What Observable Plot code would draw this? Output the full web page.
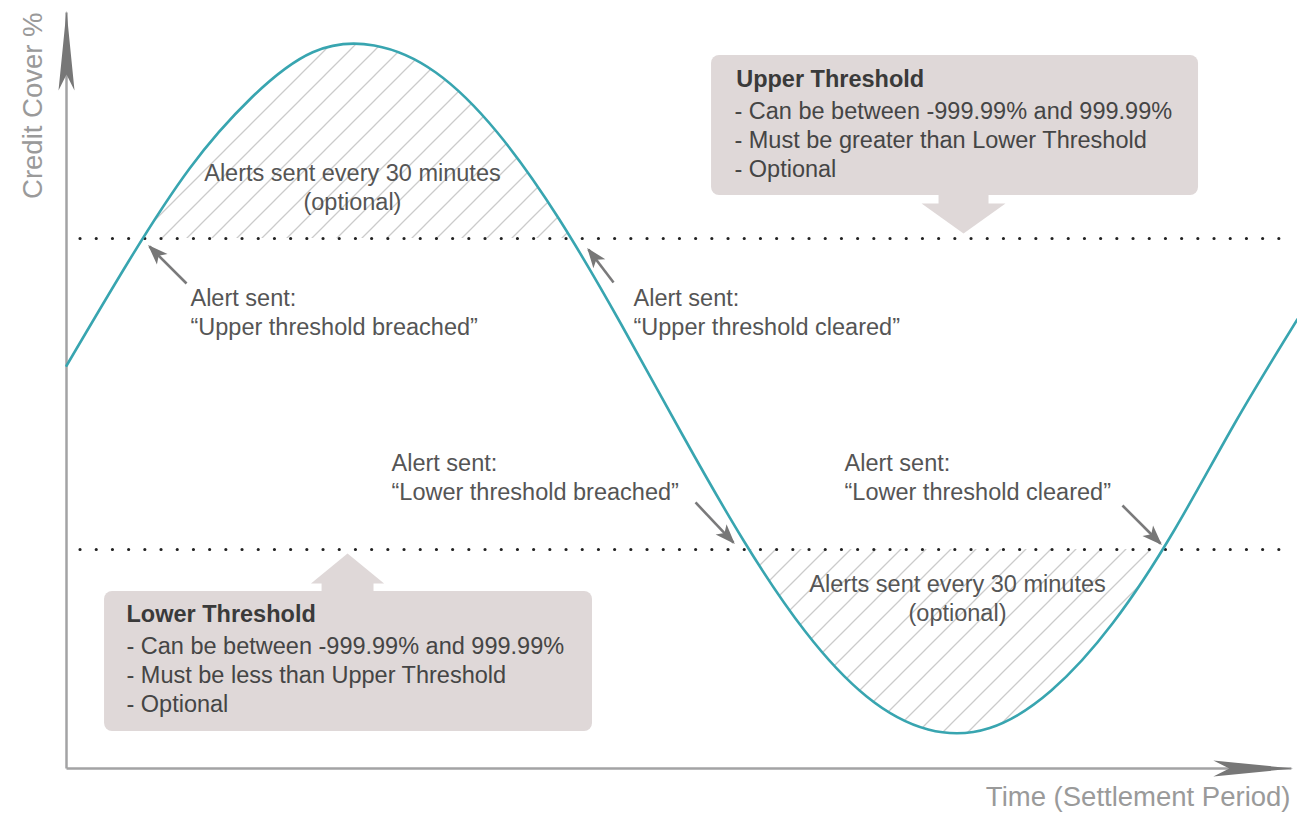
<!DOCTYPE html>
<html><head><meta charset="utf-8">
<script src="https://cdn.jsdelivr.net/npm/d3@7"></script>
<script src="https://cdn.jsdelivr.net/npm/@observablehq/plot@0.6"></script>
<style>
html,body{margin:0;padding:0;background:#fff;}
#chart svg{display:block;}
</style>
</head><body><div id="chart"></div>
<script>
// ---- data ----
const time  = [0, 5, 10, 15, 20, 25, 30, 35, 40, 45, 50, 55, 60, 65, 70, 75, 80, 85, 90, 95, 100];
const cover = [53.7, 67.5, 80.0, 89.4, 95.5, 96.4, 92.8, 84.8, 73.3, 59.4, 44.6, 30.4, 18.3, 9.6, 5.2, 5.4, 10.4, 19.4, 31.8, 46.3, 59.9];
const upperThreshold = 70.67;
const lowerThreshold = 29.2;

const series = time.map((t, i) => ({t, v: cover[i]}));

// ---- annotation layout (data units) ----
const alertNotes = [
  {text: "Alert sent:\n\u201cUpper threshold breached\u201d", t: 10.07, v: 61.0},
  {text: "Alert sent:\n\u201cUpper threshold cleared\u201d",  t: 46.06, v: 61.0},
  {text: "Alert sent:\n\u201cLower threshold breached\u201d", t: 26.4,  v: 39.0},
  {text: "Alert sent:\n\u201cLower threshold cleared\u201d",  t: 63.2,  v: 39.0}
];
const repeatNotes = [
  {text: "Alerts sent every 30 minutes\n(optional)", t: 23.23, v: 77.6},
  {text: "Alerts sent every 30 minutes\n(optional)", t: 72.38, v: 22.87}
];
const pointers = [
  {t1: 9.75,  v1: 64.67, t2: 6.74,  v2: 69.6},
  {t1: 44.44, v1: 64.8,  t2: 42.40, v2: 69.2},
  {t1: 51.10, v1: 35.47, t2: 54.18, v2: 30.13},
  {t1: 85.78, v1: 35.07, t2: 88.87, v2: 30.0}
];
const boxes = [
  {x1: 52.40, x2: 91.96, y1: 76.4, y2: 95.07},
  {x1: 3.09,  x2: 42.73, y1: 4.93, y2: 23.6}
];
const upperPointer = [
  {t: 70.84, v: 76.8}, {t: 70.84, v: 75.33}, {t: 69.46, v: 75.33}, {t: 72.87, v: 71.33},
  {t: 76.28, v: 75.33}, {t: 74.90, v: 75.33}, {t: 74.90, v: 76.8}
];
const lowerPointer = [
  {t: 20.72, v: 23.3}, {t: 20.72, v: 24.67}, {t: 19.86, v: 24.67}, {t: 22.83, v: 28.67},
  {t: 25.80, v: 24.67}, {t: 24.94, v: 24.67}, {t: 24.94, v: 23.3}
];
const boxTitles = [
  {text: "Upper Threshold", t: 54.4, v: 91.87},
  {text: "Lower Threshold", t: 4.87, v: 20.53}
];
const boxBodies = [
  {text: "- Can be between -999.99% and 999.99%\n- Must be greater than Lower Threshold\n- Optional", t: 54.26, v: 84.0},
  {text: "- Can be between -999.99% and 999.99%\n- Must be less than Upper Threshold\n- Optional", t: 4.87, v: 12.6}
];

const teal = "#38a5b0";
const boxFill = "#dfd8d8";
const axisGray = "#a3a3a4";
const pointerGray = "#7a7a7b";
const font = "'Liberation Sans', Arial, Helvetica, sans-serif";
const SVGNS = "http://www.w3.org/2000/svg";

const chart = Plot.plot({
  width: 1297,
  height: 814,
  marginLeft: 66,
  marginRight: 0,
  marginTop: 18,
  marginBottom: 46,
  x: {domain: [0, 100], axis: null},
  y: {domain: [0, 100], axis: null},
  style: {fontFamily: font, background: "#fff"},
  marks: [
    // hatched regions
    Plot.areaY(series, {x: "t", y1: upperThreshold, y2: "v", curve: "natural", fill: "url(#hatchU)"}),
    Plot.areaY(series, {x: "t", y1: lowerThreshold, y2: "v", curve: "natural", fill: "url(#hatchL)"}),
    // axes
    Plot.link([0], {x1: 0, x2: 0, y1: 0, y2: 100.8, stroke: axisGray, strokeWidth: 2.5}),
    Plot.link([0], {x1: 0, x2: 99.5, y1: 0, y2: 0, stroke: axisGray, strokeWidth: 2.5}),
    // thresholds
    Plot.ruleY([upperThreshold, lowerThreshold], {x1: 1.14, x2: 99.5, stroke: "#222", strokeWidth: 3.2, strokeDasharray: "0 16.2", strokeLinecap: "round"}),
    // curve
    Plot.line(series, {x: "t", y: "v", curve: "natural", stroke: teal, strokeWidth: 2.6}),
    // callout boxes
    Plot.rect(boxes, {x1: "x1", x2: "x2", y1: "y1", y2: "y2", fill: boxFill, rx: 8}),
    Plot.line(upperPointer, {x: "t", y: "v", fill: boxFill, stroke: "none"}),
    Plot.line(lowerPointer, {x: "t", y: "v", fill: boxFill, stroke: "none"}),
    Plot.text(boxTitles, {x: "t", y: "v", text: "text", textAnchor: "start", fontSize: 23.5, fontWeight: "bold", fill: "#3a3a3a"}),
    Plot.text(boxBodies, {x: "t", y: "v", text: "text", textAnchor: "start", fontSize: 23.5, lineHeight: 1.24, fill: "#454545"}),
    // annotation texts
    Plot.text(alertNotes, {x: "t", y: "v", text: "text", textAnchor: "start", fontSize: 23.5, lineHeight: 1.24, fill: "#555"}),
    Plot.text(repeatNotes, {x: "t", y: "v", text: "text", textAnchor: "middle", fontSize: 23.5, lineHeight: 1.24, fill: "#555"}),
    // pointer arrows
    Plot.link(pointers, {x1: "t1", y1: "v1", x2: "t2", y2: "v2", stroke: pointerGray, strokeWidth: 2.6}),
    // axis titles
    Plot.text(["Time (Settlement Period)"], {frameAnchor: "bottom-right", dx: -7, dy: 37, textAnchor: "end", fontSize: 27.5, fill: "#9a9a9a"}),
    Plot.text(["Credit Cover %"], {frameAnchor: "top-left", dx: -44, dy: -6, rotate: -90, textAnchor: "end", fontSize: 27.5, fill: "#9a9a9a"})
  ]
});

const svgNode = chart.nodeName.toLowerCase() === "svg" ? chart : chart.querySelector("svg");
function el(parent, name, attrs) {
  const e = document.createElementNS(SVGNS, name);
  for (const k in attrs) e.setAttribute(k, attrs[k]);
  parent.appendChild(e);
  return e;
}
const defs = document.createElementNS(SVGNS, "defs");
svgNode.insertBefore(defs, svgNode.firstChild);

for (const id of ["hatchU", "hatchL"]) {
  const pat = el(defs, "pattern", {id, patternUnits: "userSpaceOnUse", width: 25, height: 25});
  el(pat, "path", {d: "M-5,5L5,-5M0,25L25,0M20,30L30,20", stroke: "#cbcbcb", "stroke-width": 1.3, fill: "none"});
}

const yS = chart.scale("y");
const yu = yS.apply(upperThreshold), yl = yS.apply(lowerThreshold);
const cu = el(defs, "clipPath", {id: "clip-upper"});
el(cu, "rect", {x: 0, y: 0, width: 1297, height: yu});
const cl = el(defs, "clipPath", {id: "clip-lower"});
el(cl, "rect", {x: 0, y: yl, width: 1297, height: 814 - yl});

function dart(id, L, W, N, color) {
  const m = el(defs, "marker", {id, markerUnits: "userSpaceOnUse", markerWidth: 200, markerHeight: 200,
    viewBox: "-100 -100 200 200", refX: 0, refY: 0, orient: "auto"});
  el(m, "path", {d: `M2,0L${-L},${-W}L${-N},0L${-L},${W}Z`, fill: color});
}
dart("dart-axis", 78, 8, 62, "#777");
dart("dart-pointer", 18, 7.5, 13, "#777");

const groups = Array.from(svgNode.querySelectorAll("g"));
const byAttr = (attr, val) => groups.filter(g => (g.getAttribute(attr) || "").toLowerCase() === val.toLowerCase());
byAttr("fill", "url(#hatchU)").forEach(g => g.setAttribute("clip-path", "url(#clip-upper)"));
byAttr("fill", "url(#hatchL)").forEach(g => g.setAttribute("clip-path", "url(#clip-lower)"));
byAttr("stroke", axisGray).forEach(g => g.querySelectorAll("path,line").forEach(p => p.setAttribute("marker-end", "url(#dart-axis)")));
byAttr("stroke", pointerGray).forEach(g => g.querySelectorAll("path,line").forEach(p => p.setAttribute("marker-end", "url(#dart-pointer)")));

document.getElementById("chart").appendChild(chart);
</script>
</body></html>
